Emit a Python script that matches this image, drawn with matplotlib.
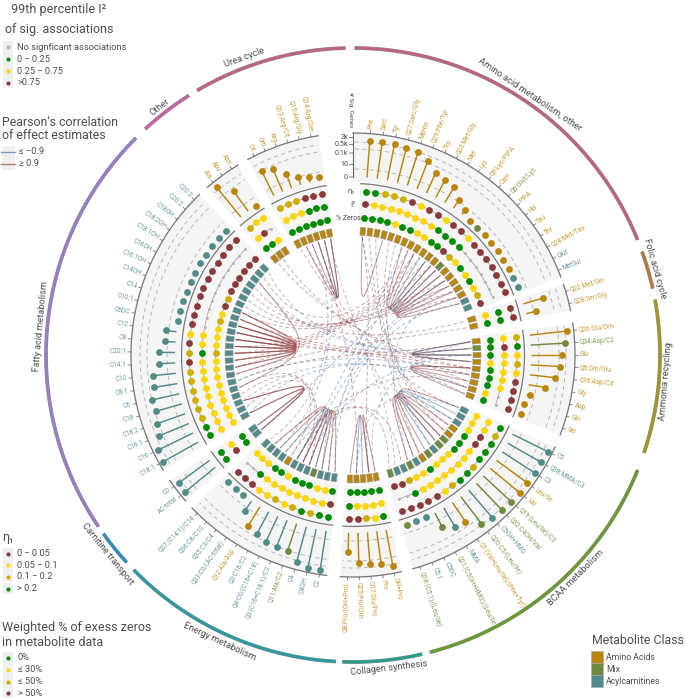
import numpy as np
import matplotlib
matplotlib.use("Agg")
import matplotlib.pyplot as plt
from matplotlib.patches import Rectangle
from matplotlib.lines import Line2D

plt.rcParams['font.family'] = ['Roboto', 'DejaVu Sans']

# ---------- data ----------
AMINO_NAMES = ["Phe","Sarc","Tyr","Q27:Sarc/Gly","MeHis","Q29:Phe/Tyr","Trp","Q23:Met/Gly","Met","Lys","Q9:Lys/PIPA","Cam","Q6:Glut/Lys","PIPA","His","Tau","Thr","Q24:Met/Tau","Glut","MetSul"]
AMINO_GENES = [1230,1230,1230,1020,840,320,68,46,31,6,2,0,0,0,0,0,0,0,0,0]
AMINO_CLASS = "aaaaaaaaaaaamaaaaacc"
AMINO_ETA   = "ggdddryrryrryrrrrrrr"
AMINO_I2    = "ryyyyyyyyggggxxxxxxx"
AMINO_ZERO  = "ggggyggyyggrdygygydr"

FOLIC_NAMES = ["Q22:Met/Ser","Q28:Ser/Gly"]
FOLIC_GENES = [46,6]
FOLIC_CLASS = "aa"
FOLIC_ETA   = "rr"
FOLIC_I2    = "gg"
FOLIC_ZERO  = "yg"

AMMONIA_NAMES = ["Q26:Glu/Orn","Q34:Asp/C2","Glu","Q5:Gln/Glu","Q16:Asp/Cit","Gly","Asp","Gln","Ser"]
AMMONIA_GENES = [1230,690,385,260,120,25,1,0,0]
AMMONIA_CLASS = "amaaaaaaa"
AMMONIA_ETA   = "dgydyrrrr"
AMMONIA_I2    = "yryyyyyxx"
AMMONIA_ZERO  = "gggygggyg"

BCAA_NAMES = ["C5","Q38:MMA/C3","C3","Leu/Ile","Val","Q19:(Leu/Ile)/C3","Q32:C4OH/Val","C5OH+HMG","Q20:C5/(Leu/Ile)","Q1:(Val+Leu/Ile)/(Phe+Tyr)","MMA","Q21:(C5OH+HMG)/(Leu/Ile)","C5DC","C5:1","Q18:(C5:1)/(Leu/Ile)"]
BCAA_GENES = [2000,1600,1600,1600,1600,1500,1230,1000,690,82,76,19,0,0,0]
BCAA_CLASS = "cccaammcmacmccm"
BCAA_ETA   = "gdgggdggdyrrrrr"
BCAA_I2    = "yyrryyyyyyyygxx"
BCAA_ZERO  = "yyygggyyygyydrr"

COLLAGEN_NAMES = ["OH+Pro","Pro","Q17:Glu/Pro","Q25:Pro/Orn","Q8:Pro/(OH+Pro)"]
COLLAGEN_GENES = [1150,520,420,345,37]
COLLAGEN_CLASS = "aaaaa"
COLLAGEN_ETA   = "gydrr"
COLLAGEN_I2    = "yyyyg"
COLLAGEN_ZERO  = "ggggg"

ENERGY_NAMES = ["C2","C4OH","C4","Q11:Ala/C2","Q3:(C16+C18:1)/C2","Q4:C0/(C16+C18)","Q2:C16/C2","Q12:Ala/Asp","Q33:C0/(AC-total)","Q35:C3/C4","Q36:C8/C10","Q37:(C14:1)/C14"]
ENERGY_GENES = [2000,1900,1230,240,240,215,134,83,8,0,0,0]
ENERGY_CLASS = "cccmcccacccc"
ENERGY_ETA   = "ggdgdydyyrrr"
ENERGY_I2    = "ryyyyyyyygxx"
ENERGY_ZERO  = "gyygggyggyyy"

CARNITINE_NAMES = ["AC-total","C0"]
CARNITINE_GENES = [1900,1600]
CARNITINE_CLASS = "cc"
CARNITINE_ETA   = "gg"
CARNITINE_I2    = "ry"
CARNITINE_ZERO  = "gg"

FATTY_NAMES = ["C18:1","C16","C16:1","C18:2","C18","C6","C8:1","C10","C14:1","C20:1","C8","C12","C6DC","C10:1","C14","C14OH","C16:1OH","C16OH","C18:1OH","C18:2OH","C18OH","C20:2","C20:3"]
FATTY_GENES = [2000,1650,470,315,180,200,87,83,22,22,6,6,0,0,0,0,0,0,0,0,0,0,0]
FATTY_CLASS = "c"*23
FATTY_ETA   = "ggddddddrdryrrrrrrrrrrr"
FATTY_I2    = "yyyyyyyyygyyxxxxxxxxxxx"
FATTY_ZERO  = "yyyyyyyyydyyydyrdrrrrrr"

OTHER_NAMES = ["Ala","Abu","Asn"]
OTHER_GENES = [1500,108,0]
OTHER_CLASS = "aaa"
OTHER_ETA   = "dyy"
OTHER_I2    = "yrx"
OTHER_ZERO  = "ggy"

UREA_NAMES = ["Cit","Orn","Arg","Q13:Arg/Cit","Q15:Arg/Gly","Q14:Arg/Orn"]
UREA_GENES = [205,115,17,4,2,1]
UREA_CLASS = "aaaaaa"
UREA_ETA   = "dddrrr"
UREA_I2    = "yyyggg"
UREA_ZERO  = "gggggg"

# within-cluster correlations (solid): (metabolite, metabolite, sign)
SOLID_FATTY = [("C10","C20:1",1),("C14:1","C8",1),("C20:1","C12",1),("C8","C6DC",1),("C12","C10:1",1),("C6DC","C14",1),("C10:1","C14OH",1),("C14:1","C6DC",1),("C20:1","C10:1",1),("C8","C14",1),("C10","C12",1),("C18OH","C18",1),("C8:1","C14OH",1)]
SOLID_FATTY2 = [("C16:1","C0",1),("C18:1","AC-total",1),("C16:1","AC-total",1),("C18:1","C0",1)]
SOLID_AMINO = [("Trp","Q9",1),("Q23","Cam",1),("Lys","Q6",-1),("Met","PIPA",1),("Q9","His",-1),("Cam","Tau",1),("Q6","Thr",1),("PIPA","Q24",1),("His","Glut",1)]
SOLID_UREA = [("Arg","Q14",1),("Q13","Q15",-1),("Q13","Q14",1),("Orn","Q15",1)]
SOLID_TOP = [("Phe","Q27",1)]
SOLID_AMMONIA = [("Q26","Q5",-1),("Q34","Glu",-1),("Q26","Glu",1),("Q34","Q5",1)]
SOLID_AMMONIA2 = [("Q16","Asp",1),("Gly","Gln",1),("Q16","Ser",1)]
SOLID_BCAA = [("C5","Q19",1),("Q38","C5OH+HMG",-1),("C3","Q32",-1),("Leu/Ile","Q20",1),("Val","Q1",1),("Q19","MMA",1),("Q32","Q21",1)]
SOLID_COLLAGEN = [("Q25","Q17",-1),("Pro","Q8",1),("OH+Pro","Pro",1)]
SOLID_ENERGY = [("Q36","Q2",1),("Q35","Q4",1),("Q33","Q3",-1),("Q2","Q11",-1),("Q4","C4",1),("Q3","C4OH",1),("Q11","C2",1)]

# between-cluster correlations (dashed)
DASHED_POS = [("C14","Glu"),("C10:1","Q16"),("C6DC","Gly"),("C12","Q5"),("C8","Met"),("C20:1","Lys"),("C14:1","Q9"),("C10","Cam"),("C16:1OH","His"),("C16OH","Tau"),("C14OH","Thr"),("C18:1OH","Q24"),("C18:2OH","Q22"),("C8:1","Q28"),("C6","Q26"),("Q13","Q25"),("Phe","Pro"),("Sarc","Q1"),("Tyr","Val"),("MeHis","Leu/Ile"),("Cit","MMA"),("Orn","C5"),("Ala","Q16"),("Abu","Asp"),("C20:2","Q23"),("Q12","Gln"),("C4","Q36"),("Q33","Q18"),("Q2","C5DC"),("C16","Q4"),("C18","Q3"),("C18:2","Q12")]
DASHED_NEG = [("Arg","Q37"),("Q15","Q35"),("Phe","C3"),("Q29","C5OH+HMG"),("C20:3","Glu"),("C18OH","Q34"),("Q14","C5:1"),("Trp","Q2"),("Met","C4OH"),("Q6","AC-total"),("Q24","Q21"),("Ser","C16:1"),("Gln","C18:1"),("Tau","Q4"),("Gly","C6"),("Glu","Q3"),("Thr","C4"),("Glut","C2"),("Q25","C5"),("OH+Pro","Q26")]

RING_LABELS = ["Amino acid metabolism, other","Folic acid cycle","Ammonia recycling","BCAA metabolism","Collagen synthesis","Energy metabolism","Carnitine transport","Fatty acid metabolism","Other","Urea cycle"]
GENE_TICKS = [0,10,100,500,2000]
GENE_TICK_LABELS = ["0","10","0.1k","0.5k","2k"]

# ---------- style and layout ----------
CAT = {'r':'#8B3A3A','y':'#FFD700','d':'#CDAD00','g':'#008B00'}
CLS = {'a':'#B8860B','m':'#6E8B3D','c':'#528B8B'}
CLS_TXT = {'a':'#C79A33','m':'#7F9C52','c':'#659A9E'}
CX, CY, RMAX = 353, 355, 340
R_RECT, R_ZERO, R_I2, R_ETA = 124, 137.5, 151, 164
R_CHORD = 118

def gene_r(v):
    return 178 + 5.2*np.log1p(v)

GROUPS = [
 dict(key='amino',n=AMINO_NAMES,v=AMINO_GENES,c=AMINO_CLASS,e=AMINO_ETA,i=AMINO_I2,z=AMINO_ZERO,t0=4.5,dt=3.32,ring=(0.3,68),col='#BE6480',hub=(30,46)),
 dict(key='folic',n=FOLIC_NAMES,v=FOLIC_GENES,c=FOLIC_CLASS,e=FOLIC_ETA,i=FOLIC_I2,z=FOLIC_ZERO,t0=73.3,dt=3.3,ring=(70.3,77.5),col='#B87A3C',hub=(70,46)),
 dict(key='ammonia',n=AMMONIA_NAMES,v=AMMONIA_GENES,c=AMMONIA_CLASS,e=AMMONIA_ETA,i=AMMONIA_I2,z=AMMONIA_ZERO,t0=83.6,dt=3.2,ring=(79.6,108.6),col='#A5961E',hub=(92,46)),
 dict(key='bcaa',n=BCAA_NAMES,v=BCAA_GENES,c=BCAA_CLASS,e=BCAA_ETA,i=BCAA_I2,z=BCAA_ZERO,t0=116.4,dt=3.29,ring=(112,165.5),col='#6A9B2E',hub=(128,46)),
 dict(key='collagen',n=COLLAGEN_NAMES,v=COLLAGEN_GENES,c=COLLAGEN_CLASS,e=COLLAGEN_ETA,i=COLLAGEN_I2,z=COLLAGEN_ZERO,t0=169.3,dt=3.03,ring=(167,182),col='#2A9E8C',hub=(170,46)),
 dict(key='energy',n=ENERGY_NAMES,v=ENERGY_GENES,c=ENERGY_CLASS,e=ENERGY_ETA,i=ENERGY_I2,z=ENERGY_ZERO,t0=188.7,dt=3.26,ring=(183.2,225.6),col='#2B9BA3',hub=(208,46)),
 dict(key='carnitine',n=CARNITINE_NAMES,v=CARNITINE_GENES,c=CARNITINE_CLASS,e=CARNITINE_ETA,i=CARNITINE_I2,z=CARNITINE_ZERO,t0=230.8,dt=2.9,ring=(227.5,234.4),col='#2B8FC2',hub=(232,46)),
 dict(key='fatty',n=FATTY_NAMES,v=FATTY_GENES,c=FATTY_CLASS,e=FATTY_ETA,i=FATTY_I2,z=FATTY_ZERO,t0=240.65,dt=3.35,ring=(236,315),col='#9B7CC9',hub=(278,46)),
 dict(key='other',n=OTHER_NAMES,v=OTHER_GENES,c=OTHER_CLASS,e=OTHER_ETA,i=OTHER_I2,z=OTHER_ZERO,t0=320.9,dt=3.0,ring=(317.4,327.7),col='#C766A6',hub=(322,46)),
 dict(key='urea',n=UREA_NAMES,v=UREA_GENES,c=UREA_CLASS,e=UREA_ETA,i=UREA_I2,z=UREA_ZERO,t0=333.6,dt=3.1,ring=(329.5,358.6),col='#BE6480',hub=(345,46)),
]

fig = plt.figure(figsize=(6.85,6.98), dpi=100, facecolor='white')
ax = fig.add_axes([(CX-RMAX)/685,(698-CY-RMAX)/698,2*RMAX/685,2*RMAX/698], projection='polar')
ax.set_theta_zero_location('N'); ax.set_theta_direction(-1)
ax.set_rlim(0,RMAX); ax.axis('off')

lg = fig.add_axes([0,0,1,1]); lg.set_xlim(0,685); lg.set_ylim(698,0); lg.axis('off'); lg.patch.set_alpha(0)

rad = np.deg2rad
POS = {}
for g in GROUPS:
    th = g['t0'] + g['dt']*np.arange(len(g['n']))
    g['th'] = th
    for nm, t in zip(g['n'], th):
        POS[nm] = (t, g)

def find(key):
    if key in POS:
        return POS[key]
    for nm in POS:
        if nm.startswith(key+':'):
            return POS[nm]
    raise KeyError(key)

def arc(a0, a1, r, **kw):
    t = rad(np.linspace(a0, a1, 60))
    ax.plot(t, np.full_like(t, r), **kw)

def band(a0, a1, r0, r1):
    ax.bar(rad((a0+a1)/2), r1-r0, width=rad(a1-a0), bottom=r0, color='#F5F5F5', lw=0, zorder=0.5)

for g in GROUPS:
    th = g['th']; n = len(th)
    pad = 1.9
    a0, a1 = th[0]-pad, th[-1]+pad
    outer0 = 0.0 if g['key']=='amino' else a0
    # background bands
    band(a0-0.4, a1+0.4, 131, 144)
    band(a0-0.2, a1+0.2, 144.6, 157.6)
    band(a0-0.1, a1+0.1, 158.2, 171)
    band(outer0, a1, 173, 223)
    # dashed grid
    for rg in (186, 206, 213):
        arc(outer0+0.5, a1-0.5, rg, color='#AFAFAF', lw=0.6, ls=(0,(5,4)), zorder=1)
    # axes arcs
    arc(outer0, a1, 222, color='#777777', lw=0.9, zorder=2)
    arc(a0, a1, 171.5, color='#777777', lw=0.9, zorder=2)
    for t in th:
        ax.plot([rad(t)]*2, [222, 225], color='#777777', lw=0.6, zorder=2)
    # lollipops
    for t, v, c, nm in zip(th, g['v'], g['c'], g['n']):
        r = gene_r(v)
        ax.plot([rad(t)]*2, [178, r], color=CLS[c], lw=1.05, zorder=3, solid_capstyle='butt')
        ax.scatter(rad(t), r, s=24, color=CLS[c], lw=0, zorder=4)
        if t < 180:
            rot, ha = 90-t, 'left'
        else:
            rot, ha = 270-t, 'right'
        ax.text(rad(t), 227, nm, rotation=rot, rotation_mode='anchor', ha=ha, va='center',
                fontsize=4.7, color=CLS_TXT[c], zorder=5)
    # category rows
    for rr, codes in ((R_ETA,g['e']),(R_I2,g['i']),(R_ZERO,g['z'])):
        ax.plot(rad(th), np.full(n, rr), color='#999999', lw=0.5, zorder=2.5)
        for t, code in zip(th, codes):
            if code == 'x':
                ax.scatter(rad(t), rr, s=4, color='#B0B0B0', lw=0, zorder=4)
            else:
                ax.scatter(rad(t), rr, s=24, color=CAT[code], lw=0, zorder=4)
    # class rectangles
    for t, c in zip(th, g['c']):
        ax.bar(rad(t), 8, width=rad(2.45), bottom=R_RECT-4, color=CLS[c], edgecolor='#9A9A9A', lw=0.4, zorder=3)
    # outer ring
    arc(*g['ring'], 307, color='#8A8A8A', lw=2.7, zorder=2, solid_capstyle='butt')
    arc(*g['ring'], 307, color=g['col'], lw=2.0, zorder=2.1, solid_capstyle='butt')

# ring labels (tangent to the ring, on its outside)
RING_LABEL_POS = [(34.2,315),(74,314),(94.8,314),(135,315),(173.4,315),(205,316),(231,316),(275.3,314),(322,314),(340,317)]
for lab, (t, r) in zip(RING_LABELS, RING_LABEL_POS):
    rot = -t if (t < 90 or t > 270) else 180-t
    ax.text(rad(t), r, lab, rotation=rot, rotation_mode='anchor', ha='center', va='center',
            fontsize=6.7, color='#4D4D4D', zorder=6)

# chords
def xy(theta, r):
    return np.array([r*np.sin(rad(theta)), r*np.cos(rad(theta))])

def bez(p0, c0, c1, p1):
    s = np.linspace(0,1,70)[:,None]
    pts = (1-s)**3*p0 + 3*s*(1-s)**2*c0 + 3*s**2*(1-s)*c1 + s**3*p1
    return np.arctan2(pts[:,0], pts[:,1]), np.hypot(pts[:,0], pts[:,1])

def chord(a, b, sign, hub=None, dashed=False):
    ta, ga = find(a); tb, gb = find(b)
    p0, p1 = xy(ta, R_CHORD), xy(tb, R_CHORD)
    if hub is not None:
        c0 = c1 = xy(*hub)
    else:
        c0, c1 = xy(*ga['hub']), xy(*gb['hub'])
    tt, rr = bez(p0, c0, c1, p1)
    tt = np.unwrap(tt)
    col = '#8B3A3A' if sign > 0 else '#3F6EA8'
    ax.plot(tt, rr, color=col, alpha=0.42 if dashed else 0.5, lw=0.7 if dashed else 0.75,
            ls=(0,(4,2.6)) if dashed else '-', zorder=1.5)

for a, b in DASHED_POS:
    chord(a, b, 1, dashed=True)
for a, b in DASHED_NEG:
    chord(a, b, -1, dashed=True)
for edges, hub in ((SOLID_FATTY,(278,38)),(SOLID_FATTY2,(234,40)),(SOLID_AMINO,(41,40)),(SOLID_UREA,(345,40)),
                   (SOLID_TOP,(10,40)),(SOLID_AMMONIA,(90,40)),(SOLID_AMMONIA2,(103,40)),(SOLID_BCAA,(127,40)),
                   (SOLID_COLLAGEN,(170,42)),(SOLID_ENERGY,(204,40))):
    for a, b, s in edges:
        chord(a, b, s, hub=hub)

# gene axis
ax.plot([0,0],[gene_r(0), gene_r(2000)+4], color='#666666', lw=0.8, zorder=3)
for tv, tl in zip(GENE_TICKS, GENE_TICK_LABELS):
    r = gene_r(tv)
    ax.plot([0, -3.5/r],[r, r], color='#666666', lw=0.6, zorder=3)
    ax.text(-5/r, r, tl, ha='right', va='center', fontsize=5.2, color='#4D4D4D', zorder=6)
lg.text(351, 110, '# Sig. Genes', rotation=-90, ha='center', va='center', fontsize=4.6, color='#4D4D4D')
lg.text(355, 191.5, 'η₁', ha='right', va='center', fontsize=5.6, color='#4D4D4D')
lg.text(355, 205, 'I²', ha='right', va='center', fontsize=5.6, color='#4D4D4D')
lg.text(361, 218, '% Zeros', ha='right', va='center', fontsize=5.0, color='#4D4D4D', zorder=0)

# legends
TXT = '#4D4D4D'
lg.text(11, 9, '99th percentile I²', fontsize=9.0, color=TXT, va='center')
lg.text(5, 29, 'of sig. associations', fontsize=9.0, color=TXT, va='center')
def key_dots(items, ys, tx=17):
    for (lab, col, size), y in zip(items, ys):
        lg.add_patch(Rectangle((3, y-5.7), 10.5, 11.4, fc='#EFEFEF', ec='none'))
        lg.scatter(8, y, s=size, color=col, lw=0)
        lg.text(tx, y, lab, fontsize=6.7, color=TXT, va='center')
key_dots([('No signficant associations','#B8B8B8',9),('0 − 0.25',CAT['g'],9),('0.25 − 0.75',CAT['y'],9),('>0.75',CAT['r'],9)],[47,59,71,82.5])
lg.text(2,122,"Pearson's correlation",fontsize=8.9,color=TXT,va='center')
lg.text(2,135.5,'of effect estimates',fontsize=8.9,color=TXT,va='center')
for y, col, lab in ((152,'#7F98BE','≤ −0.9'),(164,'#B07F7F','≥ 0.9')):
    lg.add_patch(Rectangle((2, y-5.8), 13, 11.6, fc='#EFEFEF', ec='none'))
    lg.add_line(Line2D([1,15],[y,y],color=col,lw=1.0))
    lg.text(19, y, lab, fontsize=6.7, color=TXT, va='center')
lg.text(2,538,'η₁',fontsize=8.9,color=TXT,va='center')
key_dots([('0 − 0.05',CAT['r'],9),('0.05 − 0.1',CAT['y'],9),('0.1 − 0.2',CAT['d'],9),('> 0.2',CAT['g'],9)],[553.5,565,576.5,588.5])
lg.text(2,628,'Weighted % of exess zeros',fontsize=9.0,color=TXT,va='center')
lg.text(2,642,'in metabolite data',fontsize=9.0,color=TXT,va='center')
key_dots([('0%',CAT['g'],9),('≤ 30%',CAT['y'],9),('≤ 50%',CAT['d'],9),('> 50%',CAT['r'],9)],[658,670,681.5,693],tx=18)
lg.text(591.7,640.7,'Metabolite Class',fontsize=8.9,color=TXT,va='center')
for y, code, lab in ((657,'a','Amino Acids'),(669,'m','Mix'),(681,'c','Acylcarnitines')):
    lg.add_patch(Rectangle((591, y-6), 12, 12, fc=CLS[code], ec='#AAAAAA', lw=0.4))
    lg.text(606, y, lab, fontsize=6.2, color=TXT, va='center')

fig.savefig('out.png', dpi=100, facecolor='white')
